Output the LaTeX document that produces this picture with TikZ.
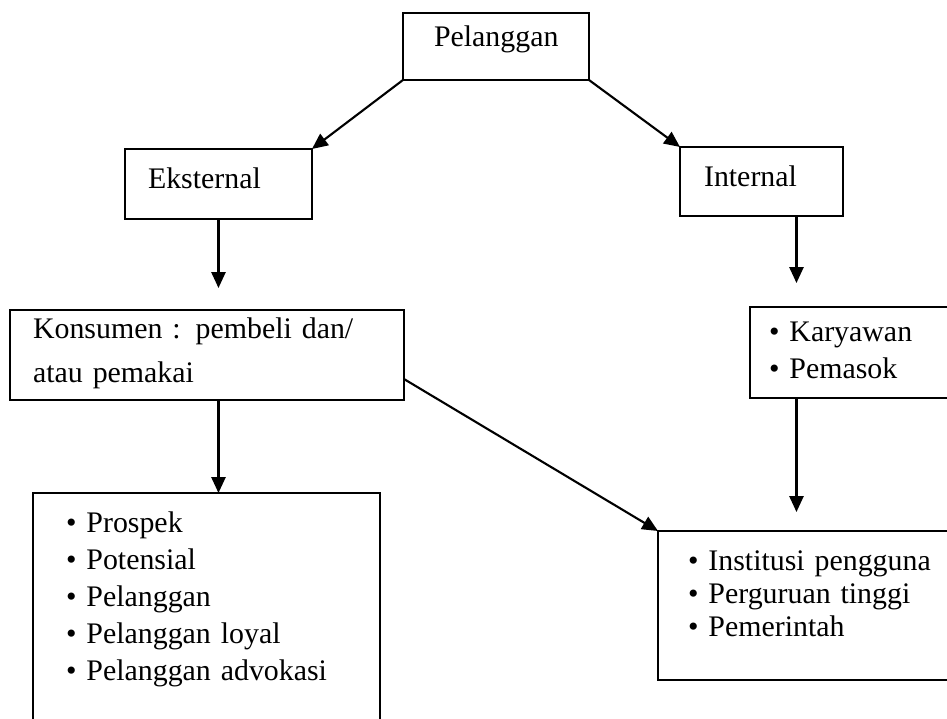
\documentclass[tikz,border=0pt]{standalone}
\usepackage{fontspec}
\setmainfont{Liberation Serif}
\usetikzlibrary{arrows.meta}

\tikzset{
  kotak/.style={draw, rectangle, anchor=north west, inner sep=0pt, outer sep=0pt},
  teks/.style={anchor=base west, inner sep=0pt, align=left, text width=#1},
  teks/.default=6cm
}

\begin{document}
\begin{tikzpicture}[x=0.02cm, y=-0.02cm, line width=1.2pt,
  >={Triangle[length=9pt,width=8pt]}, font=\fontsize{17}{21}\selectfont]
\useasboundingbox (0,0) rectangle (947,719);
\clip (0,0) rectangle (947,719);

% kotak
\node[kotak, minimum width=3.72cm, minimum height=1.34cm] (pel) at (403,13) {};
\node[kotak, minimum width=3.74cm, minimum height=1.40cm] (eks) at (125,149) {};
\node[kotak, minimum width=3.26cm, minimum height=1.38cm] (int) at (680,147) {};
\node[kotak, minimum width=7.88cm, minimum height=1.80cm] (kon) at (10,310) {};
\node[kotak, minimum width=4.20cm, minimum height=1.82cm] (kar) at (750,307) {};
\node[kotak, minimum width=6.94cm, minimum height=5.20cm] (pro) at (33,493) {};
\node[kotak, minimum width=6.04cm, minimum height=2.98cm] (ins) at (658,531) {};

% teks
\node[teks] (tpel) at (433,47) {Pelanggan};
\node[teks] (teks) at (147,189) {Eksternal};
\node[teks] (tint) at (703,187) {Internal};
\node[teks=7cm, font=\fontsize{17}{25}\selectfont] (tkon) at (32,339)
  {Konsumen : pembeli dan/\\atau pemakai};
\node[teks] (tkar) at (768,342) {\textbullet\ Karyawan\\\textbullet\ Pemasok};
\node[teks] (tpro) at (65,533) {\textbullet\ Prospek\\\textbullet\ Potensial\\
  \textbullet\ Pelanggan\\\textbullet\ Pelanggan loyal\\\textbullet\ Pelanggan advokasi};
\node[teks, font=\fontsize{17}{19}\selectfont] (tins) at (687,570)
  {\textbullet\ Institusi pengguna\\\textbullet\ Perguruan tinggi\\\textbullet\ Pemerintah};

% panah
\draw[->] (pel.south west) -- (eks.north east);
\draw[->] (pel.south east) -- (int.north west);
\draw[->, shorten >=0.44cm] (eks.south) -- (eks.south |- kon.north);
\draw[->, shorten >=0.48cm] ([xshift=0.7cm]int.south) -- ([xshift=0.7cm]int.south |- kar.north);
\draw[->] (eks.south |- kon.south) -- (eks.south |- pro.north);
\draw[->, shorten >=0.38cm] ([xshift=0.7cm]int.south |- kar.south) -- ([xshift=0.7cm]int.south |- ins.north);
\draw[->] ([yshift=0.42cm]kon.south east) -- (ins.north west);
\end{tikzpicture}
\end{document}
